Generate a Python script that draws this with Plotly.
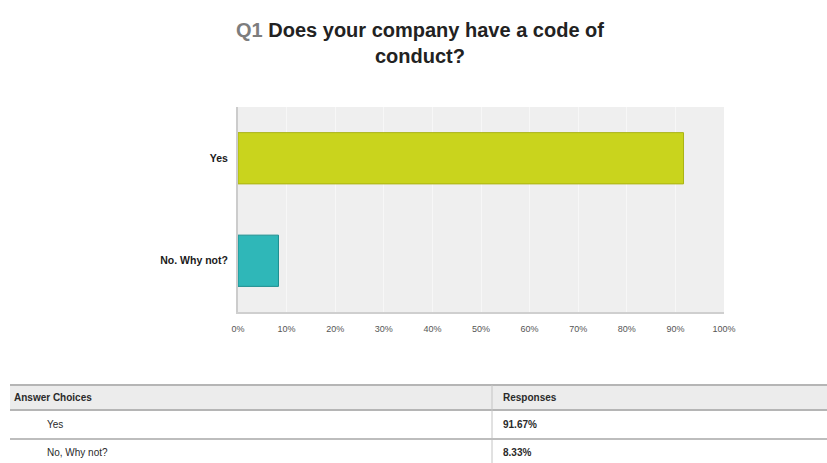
import plotly.graph_objects as go

# Survey results for Q1
choices = ["Yes", "No. Why not?"]
table_choices = ["Yes", "No, Why not?"]
responses = [91.67, 8.33]
bar_colors = ["#c9d41d", "#2fb7b8"]
bar_lines = ["#aab314", "#1d8e8f"]
tick_values = [0, 10, 20, 30, 40, 50, 60, 70, 80, 90, 100]
tick_labels = [f"{v}%" for v in tick_values]

W, H = 827, 463
L, R, T, B = 238, 103, 107, 151

fig = go.Figure(
    go.Bar(
        y=choices,
        x=responses,
        orientation="h",
        marker=dict(color=bar_colors, line=dict(color=bar_lines, width=1)),
        width=0.5,
        hoverinfo="skip",
    )
)

fig.update_layout(
    width=W,
    height=H,
    margin=dict(l=L, r=R, t=T, b=B),
    paper_bgcolor="white",
    plot_bgcolor="#efefef",
    showlegend=False,
    font=dict(family="Liberation Sans, Arial, sans-serif"),
    title=dict(
        text="<b><span style='color:#7d7d7d'>Q1</span> "
             "Does your company have a code of<br>conduct?</b>",
        x=420 / W,
        xanchor="center",
        y=1 - 37 / H,
        yanchor="middle",
        font=dict(size=20, color="#222222"),
    ),
)

fig.update_xaxes(
    range=[0, 100],
    tickvals=tick_values,
    ticktext=tick_labels,
    tickfont=dict(size=9, color="#555555"),
    showgrid=True,
    gridcolor="#f7f7f7",
    gridwidth=1,
    zeroline=False,
    showline=True,
    linecolor="#cfcfcf",
    linewidth=2,
    ticks="",
    ticklabelstandoff=7,
    fixedrange=True,
)
fig.update_yaxes(
    categoryorder="array",
    categoryarray=choices[::-1],
    tickfont=dict(size=10.5, color="#1a1a1a", family="Liberation Sans, Arial, sans-serif"),
    tickprefix="<b>",
    ticksuffix="</b>",
    showgrid=False,
    showline=True,
    linecolor="#cccccc",
    linewidth=2,
    ticks="",
    ticklabelstandoff=6,
    fixedrange=True,
)

# Response table below the chart (pixel coordinates converted to paper units)
pw, ph = W - L - R, H - T - B


def px(x):
    return (x - L) / pw


def py(y):
    return (H - B - y) / ph


x0, x1, xdiv = 10, W, 492
header_top, header_bot = 385, 410
row_lines = [439]

shapes = [
    dict(type="rect", xref="paper", yref="paper",
         x0=px(x0), x1=px(x1), y0=py(header_bot), y1=py(header_top),
         fillcolor="#ececec", line=dict(width=0), layer="below"),
    dict(type="line", xref="paper", yref="paper",
         x0=px(x0), x1=px(x1), y0=py(header_top), y1=py(header_top),
         line=dict(color="#b5b5b5", width=2)),
    dict(type="line", xref="paper", yref="paper",
         x0=px(x0), x1=px(x1), y0=py(header_bot), y1=py(header_bot),
         line=dict(color="#b5b5b5", width=2)),
    dict(type="line", xref="paper", yref="paper",
         x0=px(xdiv), x1=px(xdiv), y0=py(H), y1=py(header_top),
         line=dict(color="#c4c4c4", width=1)),
]
for yl in row_lines:
    shapes.append(dict(type="line", xref="paper", yref="paper",
                       x0=px(x0), x1=px(x1), y0=py(yl), y1=py(yl),
                       line=dict(color="#bdbdbd", width=2)))

annotations = [
    dict(text="<b>Answer Choices</b>", x=px(12), y=py(397.5)),
    dict(text="<b>Responses</b>", x=px(501), y=py(397.5)),
]
row_centers = [424, 452]
for name, val, yc in zip(table_choices, responses, row_centers):
    annotations.append(dict(text=name, x=px(45), y=py(yc)))
    annotations.append(dict(text=f"<b>{val:.2f}%</b>", x=px(501), y=py(yc)))
for a in annotations:
    a.update(xref="paper", yref="paper", xanchor="left", yanchor="middle",
             showarrow=False, font=dict(size=10, color="#2a2a2a",
                                        family="Liberation Sans, Arial, sans-serif"))

fig.update_layout(shapes=shapes, annotations=annotations)

fig.write_html("out.html")
